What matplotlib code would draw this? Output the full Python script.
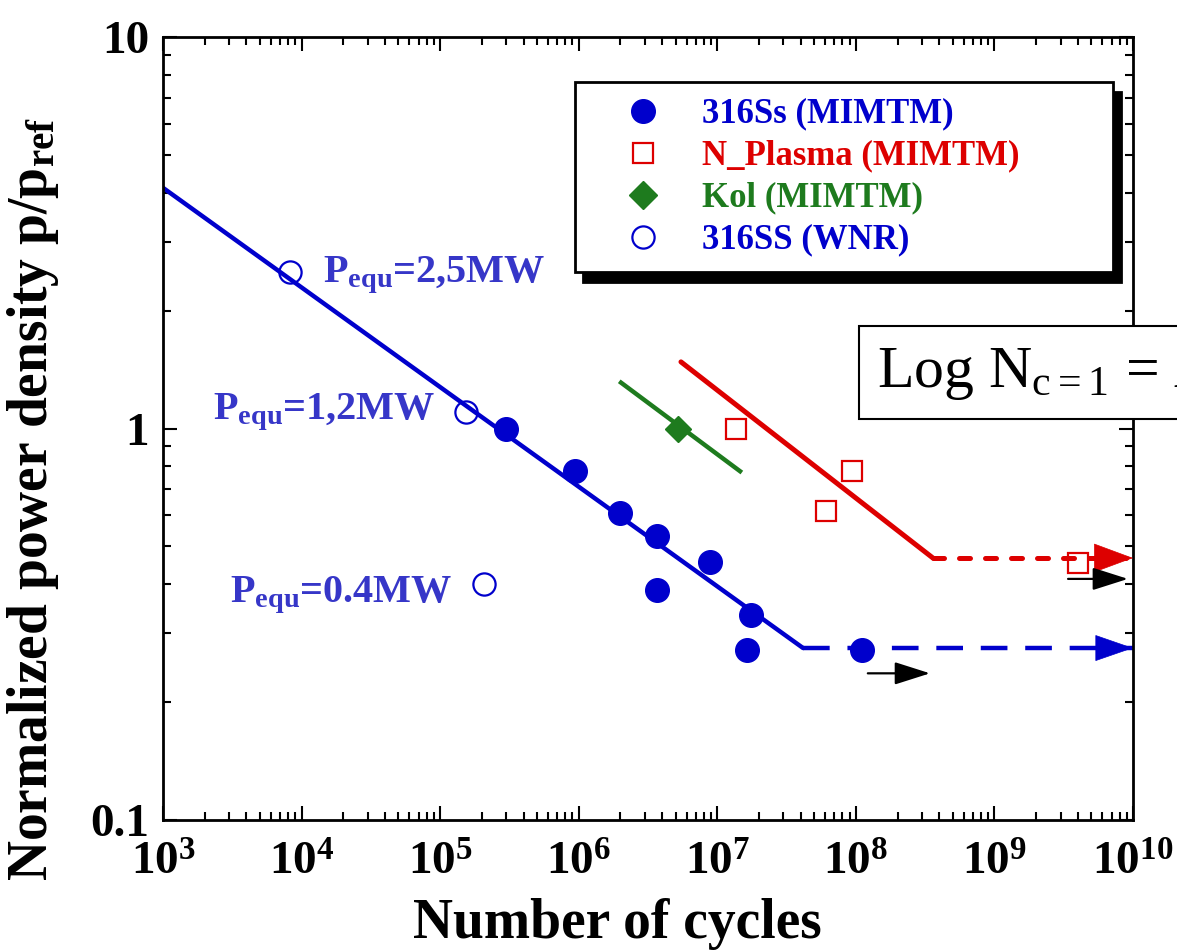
import numpy as np
import matplotlib
matplotlib.use('Agg')
import matplotlib.pyplot as plt
from matplotlib.ticker import LogLocator, NullFormatter, FixedLocator, FixedFormatter
from matplotlib.lines import Line2D

plt.rcParams['font.family'] = 'Liberation Serif'
plt.rcParams['font.weight'] = 'bold'
plt.rcParams['axes.labelweight'] = 'bold'
plt.rcParams['mathtext.fontset'] = 'custom'
plt.rcParams['mathtext.rm'] = 'Liberation Serif:bold'
plt.rcParams['mathtext.it'] = 'Liberation Serif:bold'
plt.rcParams['mathtext.bf'] = 'Liberation Serif:bold'
plt.rcParams['mathtext.sf'] = 'Liberation Serif:normal'

# 316Ss (MIMTM) - filled circles
ss_mimtm_n = [2.98e5, 9.4e5, 2.0e6, 3.67e6, 3.67e6, 8.85e6, 1.75e7, 1.64e7, 1.1e8]
ss_mimtm_p = [1.0, 0.78, 0.61, 0.53, 0.387, 0.456, 0.334, 0.272, 0.272]
# N_Plasma (MIMTM) - open squares
plasma_n = [1.37e7, 9.4e7, 6.1e7, 4.0e9]
plasma_p = [1.0, 0.78, 0.615, 0.453]
# Kol (MIMTM) - diamond
kol_n = [5.2e6]
kol_p = [1.0]
# 316SS (WNR) - open circles
wnr_n = [8.3e3, 1.54e5, 2.07e5]
wnr_p = [2.51, 1.10, 0.40]

# fitted lines
blue_fit_n = [1e3, 4.16e7]
blue_fit_p = [4.12, 0.275]
blue_flat_n = [4.16e7, 1e10]
blue_flat_p = [0.275, 0.275]
red_fit_n = [5.47e6, 3.6e8]
red_fit_p = [1.48, 0.467]
red_flat_n = [3.6e8, 1e10]
red_flat_p = [0.467, 0.467]
green_fit_n = [2.02e6, 1.46e7]
green_fit_p = [1.31, 0.778]

# run-out arrows (tail, tip, level)
runout = [(1.22e8, 3.43e8, 0.237), (3.4e9, 9.2e9, 0.413)]

# labels
pequ_text = ['P$_{equ}$=2,5MW', 'P$_{equ}$=1,2MW', 'P$_{equ}$=0.4MW']
pequ_n = [1.43e4, 2.3e3, 3.04e3]
pequ_p = [2.47, 1.10, 0.376]

xtick_vals = [1e3, 1e4, 1e5, 1e6, 1e7, 1e8, 1e9, 1e10]
xtick_labels = ['$10^{%d}$' % k for k in range(3, 11)]
ytick_vals = [0.1, 1, 10]
ytick_labels = ['0.1', '1', '10']

blue = '#0000CC'
red = '#DD0000'
green = '#1E7B1E'
label_blue = '#3636C8'

fig = plt.figure(figsize=(11.77, 9.5), dpi=100)
ax = fig.add_axes([0.1385, 0.1368, 0.8241, 0.8242])
ax.set_xscale('log')
ax.set_yscale('log')
ax.set_xlim(1e3, 1e10)
ax.set_ylim(0.1, 10)

ax.plot(blue_fit_n, blue_fit_p, color=blue, lw=3.2, solid_capstyle='round')
ax.plot(blue_flat_n, blue_flat_p, color=blue, lw=3.2, dashes=(6, 4))
ax.plot(red_fit_n, red_fit_p, color=red, lw=3.6, solid_capstyle='round')
ax.plot(red_flat_n, red_flat_p, color=red, lw=3.6, dashes=(2.2, 3), dash_capstyle='round')
ax.plot(green_fit_n, green_fit_p, color=green, lw=3.2)

ax.annotate('', xy=(1e10, 0.275), xytext=(6e9, 0.275),
            arrowprops=dict(arrowstyle='-|>,head_length=1.3,head_width=0.45', color=blue,
                            lw=0.5, mutation_scale=20, shrinkA=0, shrinkB=0))
ax.annotate('', xy=(1e10, 0.467), xytext=(6e9, 0.467),
            arrowprops=dict(arrowstyle='-|>,head_length=1.35,head_width=0.5', color=red,
                            lw=0.5, mutation_scale=20, shrinkA=0, shrinkB=0))
for tail, tip, lev in runout:
    ax.annotate('', xy=(tip, lev), xytext=(tail, lev),
                arrowprops=dict(arrowstyle='-|>,head_length=1.1,head_width=0.35', color='black',
                                lw=1.6, mutation_scale=20, shrinkA=0, shrinkB=0))

ax.plot(ss_mimtm_n, ss_mimtm_p, 'o', color=blue, ms=17, mec=blue, ls='none')
ax.plot(plasma_n, plasma_p, 's', mfc='none', mec=red, ms=14, mew=1.6, ls='none')
ax.plot(kol_n, kol_p, 'D', color=green, ms=13, ls='none')
ax.plot(wnr_n, wnr_p, 'o', mfc='none', mec=blue, ms=16, mew=1.6, ls='none')

for t, xn, yp in zip(pequ_text, pequ_n, pequ_p):
    ax.text(xn, yp, t, color=label_blue, fontsize=29, ha='left', va='center')

ax.text(1.42e8, 1.39, r'Log N$_{\mathsf{c{=}1}}$ = A + B log p', fontsize=43, fontweight='normal',
        ha='left', va='center', clip_on=False,
        bbox=dict(boxstyle='square,pad=0.3', fc='white', ec='black', lw=1.5))

handles = [
    Line2D([], [], marker='o', color=blue, ms=17, ls='none'),
    Line2D([], [], marker='s', mfc='none', mec=red, ms=14, mew=1.6, ls='none'),
    Line2D([], [], marker='D', color=green, ms=14, ls='none'),
    Line2D([], [], marker='o', mfc='none', mec=blue, ms=16, mew=1.6, ls='none'),
]
names = ['316Ss (MIMTM)', 'N_Plasma (MIMTM)', 'Kol (MIMTM)', '316SS (WNR)']
leg = ax.legend(handles, names, loc='upper left', bbox_to_anchor=(0.4247, 0.0, 0.5546, 0.9425),
                mode='expand', fontsize=25, frameon=True, fancybox=False, handlelength=3.0,
                handletextpad=0.2, labelspacing=0.26, borderpad=0.45, borderaxespad=0,
                shadow={'ox': 6, 'oy': -7, 'color': 'black', 'alpha': 1})
leg.get_frame().set_edgecolor('black')
leg.get_frame().set_linewidth(2)
for txt, c in zip(leg.get_texts(), [blue, red, green, blue]):
    txt.set_color(c)

ax.xaxis.set_major_locator(FixedLocator(xtick_vals))
ax.xaxis.set_major_formatter(FixedFormatter(xtick_labels))
ax.xaxis.set_minor_locator(LogLocator(base=10, subs=np.arange(2, 10), numticks=100))
ax.xaxis.set_minor_formatter(NullFormatter())
ax.yaxis.set_major_locator(FixedLocator(ytick_vals))
ax.yaxis.set_major_formatter(FixedFormatter(ytick_labels))
ax.yaxis.set_minor_locator(LogLocator(base=10, subs=np.arange(2, 10), numticks=100))
ax.yaxis.set_minor_formatter(NullFormatter())

ax.tick_params(which='both', direction='in', top=True, right=True, width=1.5)
ax.tick_params(which='major', length=10)
ax.tick_params(which='minor', length=6)
ax.tick_params(axis='x', which='major', labelsize=34, pad=16)
ax.tick_params(axis='y', which='major', labelsize=34, pad=10)
for s in ax.spines.values():
    s.set_linewidth(2)

ax.set_xlabel('Number of cycles', fontsize=40, fontweight='bold')
ax.set_ylabel('Normalized power density p/p$_{ref}$', fontsize=40, fontweight='bold')
ax.xaxis.set_label_coords(0.468, -0.1)
ax.yaxis.set_label_coords(-0.105, 0.41)

fig.savefig('out.png', dpi=100)
